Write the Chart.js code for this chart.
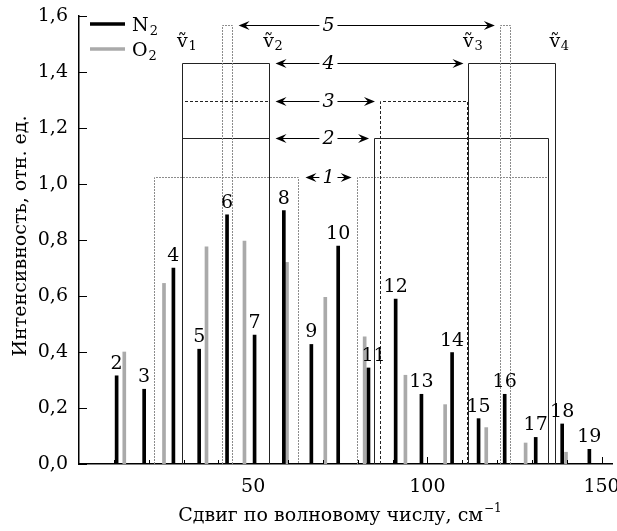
<!DOCTYPE html>
<html>
<head>
<meta charset="utf-8">
<script src="https://cdn.jsdelivr.net/npm/chart.js@4/dist/chart.umd.min.js"></script>
<style>
  body { margin: 0; background: #fff; }
</style>
</head>
<body>
<canvas id="myChart" width="617" height="531"></canvas>
<script>
// rotational Raman lines, shift in cm-1 and relative intensity
var n2Shift = [10.8, 18.7, 27.1, 34.5, 42.5, 50.4, 58.8, 66.7, 74.4, 83.1, 90.9, 98.3, 107.1, 114.7, 122.2, 131.1, 138.7, 146.5];
var n2Intensity = [0.315, 0.267, 0.70, 0.41, 0.89, 0.46, 0.905, 0.427, 0.778, 0.343, 0.589, 0.249, 0.398, 0.162, 0.249, 0.095, 0.143, 0.0525];
var n2Labels = ["2", "3", "4", "5", "6", "7", "8", "9", "10", "11", "12", "13", "14", "15", "16", "17", "18", "19"];

var o2Shift = [13.0, 24.4, 36.6, 47.5, 59.7, 70.7, 82.0, 93.7, 105.1, 116.9, 128.2, 139.8];
var o2Intensity = [0.40, 0.645, 0.776, 0.796, 0.72, 0.595, 0.454, 0.317, 0.212, 0.130, 0.075, 0.042];

// pairs of boxes joined by arrows 1..5
var boxNames = ["1", "2", "3", "4", "5"];
var boxLevel = [1.026, 1.164, 1.296, 1.433, 1.568];
var boxLeftFrom = [21.6, 29.7, 29.7, 29.7, 41.0];
var boxLeftTo = [63.0, 54.4, 54.4, 54.4, 43.8];
var boxRightFrom = [79.7, 84.7, 86.4, 111.8, 120.8];
var boxRightTo = [134.6, 134.6, 111.3, 136.6, 123.7];
var arrowLabelAt = 71.6;

var nuNames = ["1", "2", "3", "4"];
var nuShift = [29.7, 54.4, 111.8, 136.6];
var nuLevel = 1.49;

var yTicks = [0, 0.2, 0.4, 0.6, 0.8, 1.0, 1.2, 1.4, 1.6];

var xTitle = "Сдвиг по волновому числу, см";
var yTitle = "Интенсивность, отн. ед.";

var serif = "'DejaVu Serif', serif";

function pairs(xs, ys) {
  var out = [];
  for (var i = 0; i < xs.length; i++) out.push({ x: xs[i], y: ys[i] });
  return out;
}

var boxLook = [
  { color: "#8c8c8c", dash: [2, 1] },
  { color: "#222", dash: [] },
  { color: "#222", dash: [3, 2] },
  { color: "#222", dash: [] },
  { color: "#8c8c8c", dash: [2, 1] }
];

function arrowHead(ctx, x, y, dir) {
  ctx.beginPath();
  ctx.moveTo(x, y);
  ctx.lineTo(x - dir * 11, y - 4.5);
  ctx.lineTo(x - dir * 7, y);
  ctx.lineTo(x - dir * 11, y + 4.5);
  ctx.closePath();
  ctx.fill();
}

var annotate = {
  id: "annotate",
  beforeDatasetsDraw: function (chart) {
    var ctx = chart.ctx, xs = chart.scales.x, ys = chart.scales.y;
    var y0 = ys.getPixelForValue(0);
    ctx.save();
    ctx.lineWidth = 1;
    for (var i = 0; i < boxNames.length; i++) {
      ctx.strokeStyle = boxLook[i].color;
      ctx.setLineDash(boxLook[i].dash);
      var top = Math.round(ys.getPixelForValue(boxLevel[i])) + 0.5;
      var sides = [[boxLeftFrom[i], boxLeftTo[i]], [boxRightFrom[i], boxRightTo[i]]];
      sides.forEach(function (b) {
        var a = Math.round(xs.getPixelForValue(b[0])) + 0.5;
        var c = Math.round(xs.getPixelForValue(b[1])) + 0.5;
        ctx.beginPath();
        ctx.moveTo(a, y0);
        ctx.lineTo(a, top);
        ctx.lineTo(c, top);
        ctx.lineTo(c, y0);
        ctx.stroke();
      });
    }
    ctx.restore();
  },
  afterDatasetsDraw: function (chart) {
    var ctx = chart.ctx, xs = chart.scales.x, ys = chart.scales.y;
    ctx.save();

    // arrows with italic numbers
    ctx.strokeStyle = "#000";
    ctx.fillStyle = "#000";
    ctx.lineWidth = 1;
    ctx.font = "italic 19px " + serif;
    ctx.textAlign = "center";
    ctx.textBaseline = "middle";
    for (var i = 0; i < boxNames.length; i++) {
      var ly = Math.round(ys.getPixelForValue(boxLevel[i])) + 0.5;
      var xa = xs.getPixelForValue(boxLeftTo[i]) + 7;
      var xb = xs.getPixelForValue(boxRightFrom[i]) - 5;
      var xm = xs.getPixelForValue(arrowLabelAt);
      var half = ctx.measureText(boxNames[i]).width / 2 + 3;
      ctx.beginPath();
      ctx.moveTo(xa + 6, ly); ctx.lineTo(xm - half, ly);
      ctx.moveTo(xm + half, ly); ctx.lineTo(xb - 6, ly);
      ctx.stroke();
      arrowHead(ctx, xa, ly, -1);
      arrowHead(ctx, xb, ly, 1);
      ctx.fillText(boxNames[i], xm, ly + 1);
    }

    // nu labels
    ctx.textBaseline = "alphabetic";
    var ny = ys.getPixelForValue(nuLevel);
    for (var k = 0; k < nuNames.length; k++) {
      var nx = xs.getPixelForValue(nuShift[k]);
      ctx.font = "19px " + serif;
      ctx.textAlign = "center";
      ctx.fillText("\u1E7D", nx, ny);
      ctx.font = "13px " + serif;
      ctx.textAlign = "left";
      ctx.fillText(nuNames[k], nx + 6, ny + 3);
    }

    // rotational quantum numbers above N2 lines
    ctx.font = "19px " + serif;
    ctx.textAlign = "center";
    for (var j = 0; j < n2Labels.length; j++) {
      var bx = xs.getPixelForValue(n2Shift[j]);
      var by = ys.getPixelForValue(n2Intensity[j]);
      if (n2Labels[j] === "11") bx += 5;
      ctx.fillText(n2Labels[j], bx, by - 7);
    }
    ctx.restore();
  },
  afterDraw: function (chart) {
    var ctx = chart.ctx, xs = chart.scales.x, ys = chart.scales.y;
    var x0 = xs.getPixelForValue(0), y0 = ys.getPixelForValue(0);
    ctx.save();
    ctx.strokeStyle = "#000";
    ctx.lineWidth = 1;
    // inward ticks
    ctx.beginPath();
    yTicks.forEach(function (v) {
      var p = Math.round(ys.getPixelForValue(v)) + 0.5;
      ctx.moveTo(x0, p); ctx.lineTo(x0 + 8, p);
    });
    xs.ticks.forEach(function (t) {
      var p = Math.round(xs.getPixelForValue(t.value)) + 0.5;
      var len = (t.value % 50 === 0) ? 7 : 4;
      if (t.value === 0) return;
      ctx.moveTo(p, y0); ctx.lineTo(p, y0 - len);
    });
    ctx.stroke();

    // legend
    ctx.lineWidth = 3.5;
    ctx.strokeStyle = "#000";
    ctx.beginPath(); ctx.moveTo(90, 24); ctx.lineTo(125, 24); ctx.stroke();
    ctx.strokeStyle = "#aaaaaa";
    ctx.beginPath(); ctx.moveTo(90, 49); ctx.lineTo(125, 49); ctx.stroke();
    ctx.fillStyle = "#000";
    ctx.textAlign = "left";
    ctx.textBaseline = "alphabetic";
    ctx.font = "19px " + serif;
    ctx.fillText("N", 132, 31);
    ctx.fillText("O", 132, 56);
    var wN = ctx.measureText("N").width, wO = ctx.measureText("O").width;
    ctx.font = "13px " + serif;
    ctx.fillText("2", 132 + wN + 1, 35);
    ctx.fillText("2", 132 + wO + 1, 60);

    // axis titles
    ctx.font = "19px " + serif;
    ctx.textBaseline = "middle";
    var wt = ctx.measureText(xTitle).width;
    ctx.font = "12px " + serif;
    var ws = ctx.measureText("\u22121").width;
    var tx = 340 - (wt + ws + 1) / 2;
    ctx.font = "19px " + serif;
    ctx.fillText(xTitle, tx, 516);
    ctx.font = "12px " + serif;
    ctx.fillText("\u22121", tx + wt + 1, 509);

    ctx.font = "19px " + serif;
    ctx.translate(21, 236);
    ctx.rotate(-Math.PI / 2);
    ctx.textAlign = "center";
    ctx.fillText(yTitle, 0, 0);
    ctx.restore();
  }
};

new Chart("myChart", {
  type: "bar",
  data: {
    datasets: [
      {
        label: "N2",
        data: pairs(n2Shift, n2Intensity),
        backgroundColor: "#000",
        barThickness: 3,
        order: 0
      },
      {
        label: "O2",
        data: pairs(o2Shift, o2Intensity),
        backgroundColor: "#aaaaaa",
        barThickness: 3,
        order: 1
      }
    ]
  },
  options: {
    responsive: false,
    animation: false,
    grouped: false,
    layout: { padding: { left: 0, right: 5, top: 16, bottom: 31 } },
    plugins: {
      legend: { display: false },
      tooltip: { enabled: false }
    },
    scales: {
      x: {
        type: "linear",
        offset: false,
        min: 0,
        max: 153,
        grid: { display: false, drawTicks: false },
        border: { display: true, color: "#000", width: 1.5 },
        afterFit: function (s) {
          s.height = 36;
          s.paddingLeft = 0; s.paddingRight = 0;
        },
        ticks: {
          stepSize: 10,
          includeBounds: false,
          autoSkip: false,
          maxRotation: 0,
          padding: 12,
          color: "#000",
          font: { family: serif, size: 19 },
          callback: function (v) { return (v % 50 === 0 && v > 0) ? String(v) : ""; }
        }
      },
      y: {
        min: 0,
        max: 1.6,
        grid: { display: false, drawTicks: false },
        border: { display: true, color: "#000", width: 1.5 },
        afterFit: function (s) {
          s.width = 79;
          s.paddingTop = 0; s.paddingBottom = 0;
        },
        ticks: {
          stepSize: 0.2,
          padding: 11,
          color: "#000",
          font: { family: serif, size: 19 },
          callback: function (v) { return v.toFixed(1).replace(".", ","); }
        }
      }
    }
  },
  plugins: [annotate]
});
</script>
</body>
</html>
